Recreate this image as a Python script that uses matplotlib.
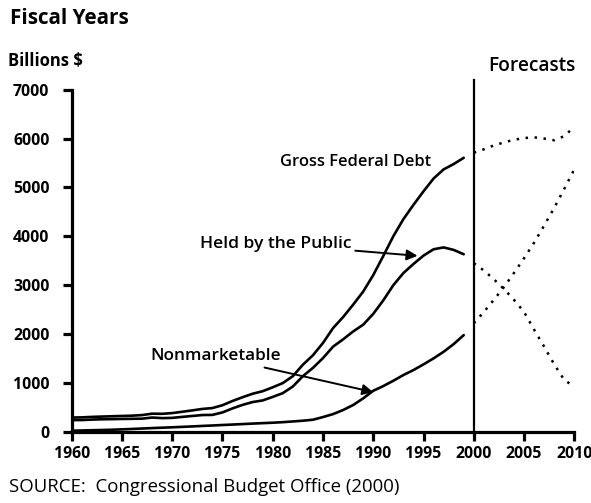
import numpy as np
import matplotlib
matplotlib.use("Agg")
import matplotlib.pyplot as plt

# fonts / sizes
fontChoice = "Open Sans"
plt.rcParams['font.family'] = [fontChoice, 'DejaVu Sans']
lineWidth = 1.9
spineWidth = 2.3

# historical data (billions $), fiscal years 1960-1999
years = list(range(1960, 2000))
gross_debt = [290, 293, 303, 310, 316, 322, 328, 340, 369, 366,
              381, 408, 436, 466, 484, 542, 629, 706, 777, 829,
              909, 995, 1137, 1372, 1565, 1817, 2121, 2346, 2601, 2868,
              3206, 3598, 4002, 4351, 4643, 4921, 5182, 5369, 5478, 5606]
held_public = [237, 238, 248, 254, 257, 261, 264, 267, 290, 278,
               283, 303, 322, 341, 344, 395, 477, 549, 607, 640,
               712, 789, 925, 1137, 1307, 1507, 1741, 1890, 2052, 2191,
               2412, 2689, 3000, 3248, 3433, 3604, 3734, 3772, 3721, 3632]
nonmarketable = [20, 25, 30, 35, 40, 48, 56, 65, 74, 82,
                 90, 99, 108, 118, 127, 137, 146, 156, 166, 175,
                 184, 195, 210, 225, 245, 300, 360, 444, 546, 683,
                 838, 934, 1043, 1160, 1262, 1378, 1501, 1636, 1793, 1977]

# forecasts 2000-2010
fc_years = list(range(2000, 2011))
fc_gross = [5710, 5780, 5860, 5920, 5975, 6010, 6025, 6000, 5965, 6050, 6240]
fc_held = [3450, 3300, 3120, 2920, 2700, 2450, 2090, 1740, 1380, 1060, 920]
fc_nonmarket = [2220, 2450, 2700, 2960, 3250, 3550, 3870, 4220, 4580, 4970, 5370]

W, H = 591, 503
fig = plt.figure(figsize=(W / 100, H / 100), dpi=100)
ax = fig.add_axes([71.7 / W, 1 - 431.7 / H, (574.3 - 71.7) / W, (431.7 - 89.7) / H])

for s in [gross_debt, held_public, nonmarketable]:
    ax.plot(years, s, '-', color='black', linewidth=lineWidth, solid_capstyle='round')
for s in [fc_gross, fc_held, fc_nonmarket]:
    ax.plot(fc_years, s, linestyle=(0, (1, 2.6)), color='black', linewidth=1.8)

# forecast divider
ax.plot([2000, 2000], [0, 7200], color='black', linewidth=1.6, clip_on=False)

ax.set_xlim(1960, 2010)
ax.set_ylim(0, 7000)
ax.set_xticks(range(1960, 2011, 5))
ax.set_yticks(range(0, 7001, 1000))
for side in ['top', 'right']:
    ax.spines[side].set_visible(False)
for side in ['left', 'bottom']:
    ax.spines[side].set_linewidth(spineWidth)
ax.tick_params(axis='both', which='both', direction='out', length=6.5, width=spineWidth,
               labelsize=11.4)
ax.tick_params(axis='y', pad=9.5)
ax.tick_params(axis='x', pad=4)
for lab in ax.get_xticklabels() + ax.get_yticklabels():
    lab.set_fontweight('bold')

# annotations
ax.text(1988.2, 5520, 'Gross Federal Debt', ha='center', va='center',
        fontsize=11.9, fontweight='semibold')
ax.annotate('Held by the Public', xy=(1994.4, 3600), xytext=(1987.8, 3840),
            ha='right', va='center', fontsize=12.6, fontweight='semibold',
            arrowprops=dict(arrowstyle='-|>', color='black', lw=1.4,
                            mutation_scale=16, shrinkA=1, shrinkB=0))
ax.annotate('Nonmarketable', xy=(1990.0, 810), xytext=(1980.8, 1540),
            ha='right', va='center', fontsize=12.4, fontweight='semibold',
            arrowprops=dict(arrowstyle='-|>', color='black', lw=1.4,
                            mutation_scale=16, shrinkA=1, shrinkB=0))
ax.text(2005.8, 7480, 'Forecasts', ha='center', va='center',
        fontsize=13.8, fontweight='semibold')

fig.text(10 / W, 1 - 18 / H, 'Fiscal Years', ha='left', va='center',
         fontsize=14.9, fontweight='bold')
fig.text(8 / W, 1 - 61 / H, 'Billions $', ha='left', va='center',
         fontsize=12, fontweight='bold')
fig.text(9 / W, 1 - 487 / H, 'SOURCE:  Congressional Budget Office (2000)', ha='left',
         va='center', fontsize=13.4, fontweight='medium')

fig.savefig('out.png', dpi=100)
